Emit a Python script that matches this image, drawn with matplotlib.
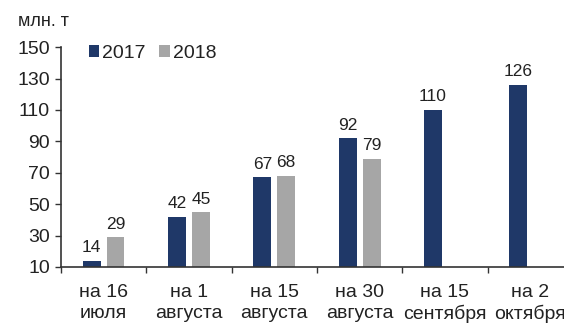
import matplotlib.pyplot as plt
import numpy as np

plt.rcParams['font.family'] = ['Liberation Sans', 'DejaVu Sans']

categories = ["на 16\nиюля", "на 1\nавгуста", "на 15\nавгуста",
              "на 30\nавгуста", "на 15\nсентября", "на 2\nоктября"]
values_2017 = [14, 42, 67, 92, 110, 126]
values_2018 = [29, 45, 68, 79, None, None]
yticks = [10, 30, 50, 70, 90, 110, 130, 150]

navy = "#1f3868"
gray = "#a6a6a6"
text_color = "#222222"
base = 10

fig = plt.figure(figsize=(5.64, 3.27), dpi=100)
ax = fig.add_axes([0.108, 0.1835, 0.908, 0.6725])

x = np.arange(len(categories))
w = 0.21
off = 0.14

ax.bar(x - off, [v - base for v in values_2017], bottom=base, width=w,
       color=navy, label="2017")
x18 = [xi + off for xi, v in zip(x, values_2018) if v is not None]
v18 = [v for v in values_2018 if v is not None]
ax.bar(x18, [v - base for v in v18], bottom=base, width=w,
       color=gray, label="2018")

for xi, v in zip(x - off, values_2017):
    ax.text(xi, v + 3.5, str(v), ha="center", va="bottom",
            fontsize=12.5, color=text_color)
for xi, v in zip(x18, v18):
    ax.text(xi, v + 3.5, str(v), ha="center", va="bottom",
            fontsize=12.5, color=text_color)

ax.set_xlim(-0.5, len(categories) - 0.5)
ax.set_ylim(10, 150)
ax.set_yticks(yticks)
ax.set_yticklabels([str(t) for t in yticks], fontsize=14, color=text_color)

ax.set_xticks(np.arange(len(categories) + 1) - 0.5)
ax.set_xticklabels([])
ax.set_xticks(x, minor=True)
ax.set_xticklabels(categories, minor=True, fontsize=14, color=text_color,
                   linespacing=1.3)
ax.tick_params(axis="x", which="minor", length=0, pad=12)
ax.tick_params(axis="x", which="major", length=4, direction="out",
               color="#333333", width=1)
ax.tick_params(axis="y", length=4, direction="out", color="#333333",
               width=1, pad=4)

for s in ["top", "right"]:
    ax.spines[s].set_visible(False)
for s in ["left", "bottom"]:
    ax.spines[s].set_color("#333333")
    ax.spines[s].set_linewidth(1.2)

ax.legend(loc="upper left", bbox_to_anchor=(0.02, 1.09), ncol=2,
          frameon=False, fontsize=14, handlelength=0.55, handleheight=0.55,
          handletextpad=0.15, columnspacing=0.7, labelcolor=text_color)

fig.text(18 / 564, 1 - 21 / 327, "млн. т", fontsize=13, color=text_color,
         ha="left", va="center")

fig.savefig("out.png", dpi=100)
